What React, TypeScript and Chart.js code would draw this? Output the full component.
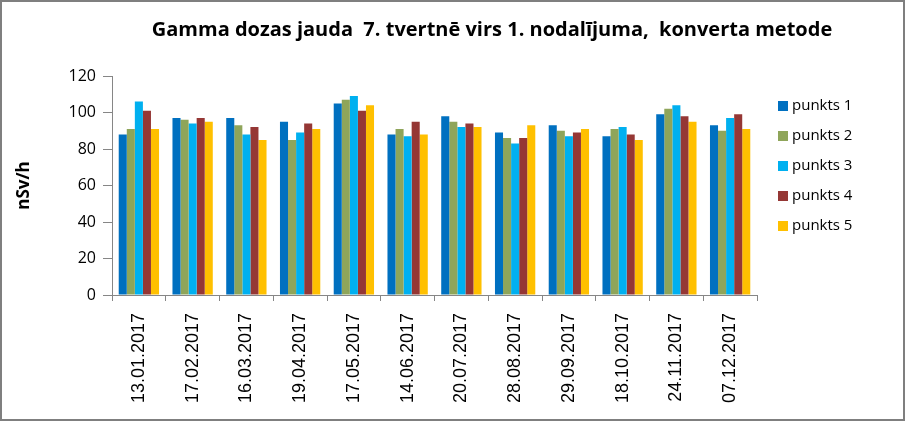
import React, { useEffect, useRef } from "react";
import { Chart, registerables } from "chart.js";

Chart.register(...registerables);

const categories = [
  "13.01.2017", "17.02.2017", "16.03.2017", "19.04.2017", "17.05.2017", "14.06.2017",
  "20.07.2017", "28.08.2017", "29.09.2017", "18.10.2017", "24.11.2017", "07.12.2017",
];
const punkts1 = [88, 97, 97, 95, 105, 88, 98, 89, 93, 87, 99, 93];
const punkts2 = [91, 96, 93, 85, 107, 91, 95, 86, 90, 91, 102, 90];
const punkts3 = [106, 94, 88, 89, 109, 87, 92, 83, 87, 92, 104, 97];
const punkts4 = [101, 97, 92, 94, 101, 95, 94, 86, 89, 88, 98, 99];
const punkts5 = [91, 95, 85, 91, 104, 88, 92, 93, 91, 85, 95, 91];
const seriesNames = ["punkts 1", "punkts 2", "punkts 3", "punkts 4", "punkts 5"];
const seriesColors = ["#0070C0", "#8FA55A", "#00B0F0", "#953735", "#FFC000"];
const yTicks = [0, 20, 40, 60, 80, 100, 120];
const titleText = "Gamma dozas jauda  7. tvertnē virs 1. nodalījuma,  konverta metode";
const yTitle = "nSv/h";

const frameAndLegend = {
  id: "frameAndLegend",
  beforeDraw(chart: any) {
    const ctx = chart.ctx;
    ctx.save();
    ctx.fillStyle = "#ffffff";
    ctx.fillRect(0, 0, chart.width, chart.height);
    ctx.restore();
  },
  afterDraw(chart: any) {
    const ctx = chart.ctx;
    ctx.save();
    ctx.strokeStyle = "#7F7F7F";
    ctx.lineWidth = 2;
    ctx.strokeRect(1, 1, chart.width - 2, chart.height - 2);
    // title
    ctx.fillStyle = "#000000";
    ctx.font = "bold 20px 'Open Sans'";
    ctx.textAlign = "center";
    ctx.textBaseline = "middle";
    ctx.fillText(titleText, 492, 30);
    // legend
    ctx.font = "15px 'Open Sans'";
    ctx.textBaseline = "middle";
    ctx.textAlign = "left";
    chart.data.datasets.forEach((ds: any, i: number) => {
      const y = 106 + 30 * i;
      ctx.fillStyle = ds.backgroundColor;
      ctx.fillRect(778, y - 5, 10, 10);
      ctx.fillStyle = "#000000";
      ctx.fillText(ds.label, 792, y);
    });
    ctx.restore();
  },
};

export default function App() {
  const ref = useRef<HTMLCanvasElement>(null);
  useEffect(() => {
    document.body.style.margin = "0";
    const data = [punkts1, punkts2, punkts3, punkts4, punkts5];
    const chart = new Chart(ref.current!, {
      type: "bar",
      data: {
        labels: categories,
        datasets: data.map((d, i) => ({
          label: seriesNames[i],
          data: d,
          backgroundColor: seriesColors[i],
          borderWidth: 0,
          categoryPercentage: 0.75,
          barPercentage: 1.0,
        })),
      },
      plugins: [frameAndLegend],
      options: {
        responsive: false,
        animation: false,
        devicePixelRatio: 1,
        layout: { padding: { left: 0, right: 148, top: 76, bottom: 0 } },
        plugins: {
          legend: { display: false },
          tooltip: { enabled: false },
          title: { display: false },
        },
        scales: {
          x: {
            offset: true,
            grid: { offset: true, drawOnChartArea: false, drawTicks: true, tickLength: 6, color: "#868686" },
            border: { color: "#868686", width: 1 },
            ticks: {
              minRotation: 90,
              maxRotation: 90,
              padding: 12,
              color: "#000000",
              font: { family: "'Liberation Sans'", size: 18 },
            },
            afterFit: (s: any) => { s.height = 126; },
          },
          y: {
            min: 0,
            max: 120,
            afterBuildTicks: (s: any) => { s.ticks = yTicks.map((v) => ({ value: v })); },
            grid: { drawOnChartArea: false, drawTicks: true, tickLength: 9, color: "#868686" },
            border: { color: "#868686", width: 1 },
            ticks: {
              padding: 7,
              color: "#000000",
              font: { family: "'Open Sans'", size: 16 },
            },
            title: {
              display: true,
              text: yTitle,
              color: "#000000",
              font: { family: "'Open Sans'", size: 17, weight: "bold" },
              padding: { top: 14, bottom: 0 },
            },
            afterFit: (s: any) => { s.width = 112; },
          },
        },
      },
    });
    return () => chart.destroy();
  }, []);
  return (
    <div style={{ width: 905, height: 421 }}>
      <canvas ref={ref} width={905} height={421} style={{ display: "block" }} />
    </div>
  );
}
